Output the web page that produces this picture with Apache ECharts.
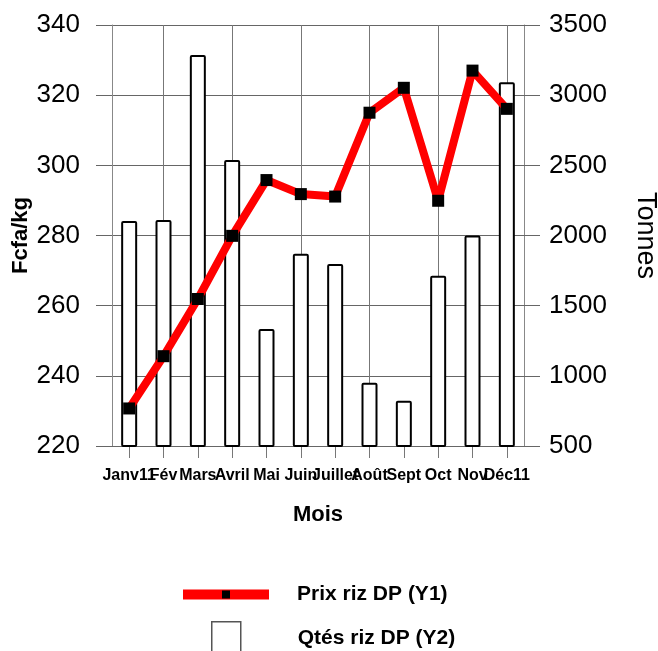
<!DOCTYPE html>
<html>
<head>
<meta charset="utf-8">
<script src="https://cdn.jsdelivr.net/npm/echarts@6/dist/echarts.min.js"></script>
<style>html,body{margin:0;padding:0;background:#fff}#c{width:658px;height:651px}</style>
</head>
<body>
<div id="c"></div>
<script>
const months = ['Janv11','Fév','Mars','Avril','Mai','Juin','Juillet','Août','Sept','Oct','Nov','Déc11'];
const prixRiz = [230.7, 245.6, 261.9, 279.9, 295.8, 291.8, 291.1, 315.0, 322.1, 289.9, 327.0, 316.1];
const qtesRiz = [2103, 2110, 3286, 2538, 1334, 1870, 1797, 951, 823, 1714, 2000, 3092];
const y1Ticks = {min: 220, max: 340, interval: 20};
const y2Ticks = {min: 500, max: 3500, interval: 500};
const seriesNames = ['Prix riz DP (Y1)', 'Qtés riz DP (Y2)'];

const SANS = "'Liberation Sans',Arial,sans-serif";

const chart = echarts.init(document.getElementById('c'), null, {renderer: 'canvas'});
chart.setOption({
  animation: false,
  backgroundColor: '#fff',
  grid: {left: 112, right: 134, top: 25, bottom: 205, containLabel: false, outerBoundsMode: 'none'},
  legend: [
    {data: [seriesNames[0]], left: 178, top: 584, padding: 0, itemWidth: 86, itemHeight: 10,
     lineStyle: {width: 10},
     textStyle: {fontFamily: SANS, fontWeight: 'bold', fontSize: 21, color: '#000', padding: [0,0,0,23]}},
    {data: [seriesNames[1]], left: 211, top: 621, padding: 0, itemWidth: 29, itemHeight: 32, icon: 'rect',
     itemStyle: {color: '#fff', borderColor: '#555', borderWidth: 1.5},
     textStyle: {fontFamily: SANS, fontWeight: 'bold', fontSize: 21, color: '#000', padding: [0,0,0,52]}}
  ],
  xAxis: {
    type: 'category', data: months, boundaryGap: true,
    axisLine: {show: true, lineStyle: {color: '#666', width: 1}},
    axisTick: {show: true, alignWithLabel: true, length: 12, interval: 0, lineStyle: {color: '#777'}},
    axisLabel: {interval: 0, margin: 22, fontFamily: SANS, fontWeight: 'bold', fontSize: 16, color: '#000'},
    splitLine: {show: true, alignWithLabel: true, interval: function (i) { return i % 2 === 1; },
                lineStyle: {color: '#777', width: 1}},
    name: 'Mois', nameLocation: 'middle', nameGap: 58,
    nameTextStyle: {fontFamily: SANS, fontWeight: 'bold', fontSize: 22, color: '#000'}
  },
  yAxis: [
    {type: 'value', position: 'left', min: y1Ticks.min, max: y1Ticks.max, interval: y1Ticks.interval,
     axisLine: {show: true, lineStyle: {color: '#888'}},
     axisTick: {show: true, length: 16, lineStyle: {color: '#666'}},
     axisLabel: {margin: 32, fontFamily: SANS, fontSize: 26, color: '#000'},
     splitLine: {show: true, lineStyle: {color: '#666', width: 1}},
     name: 'Fcfa/kg', nameLocation: 'middle', nameGap: 80, nameRotate: 90, nameMoveOverlap: false,
     nameTextStyle: {fontFamily: SANS, fontWeight: 'bold', fontSize: 22, color: '#000'}},
    {type: 'value', position: 'right', min: y2Ticks.min, max: y2Ticks.max, interval: y2Ticks.interval,
     axisLine: {show: true, lineStyle: {color: '#888'}},
     axisTick: {show: true, length: 16, lineStyle: {color: '#666'}},
     axisLabel: {margin: 25, fontFamily: SANS, fontSize: 26, color: '#000',
                 formatter: function (v) { return String(v); }},
     splitLine: {show: false},
     name: 'Tonnes', nameLocation: 'middle', nameGap: 108, nameRotate: -90, nameMoveOverlap: false,
     nameTextStyle: {fontFamily: SANS, fontSize: 27, color: '#000'}}
  ],
  series: [
    {name: seriesNames[1], type: 'bar', yAxisIndex: 1, data: qtesRiz, barWidth: 16, z: 2,
     itemStyle: {color: '#fff', borderColor: '#000', borderWidth: 2, borderRadius: 1}},
    {name: seriesNames[0], type: 'line', yAxisIndex: 0, data: prixRiz, z: 5,
     symbol: 'rect', symbolSize: 12, showAllSymbol: true,
     lineStyle: {color: '#ff0000', width: 8},
     itemStyle: {color: '#000'}}
  ]
});
</script>
</body>
</html>
